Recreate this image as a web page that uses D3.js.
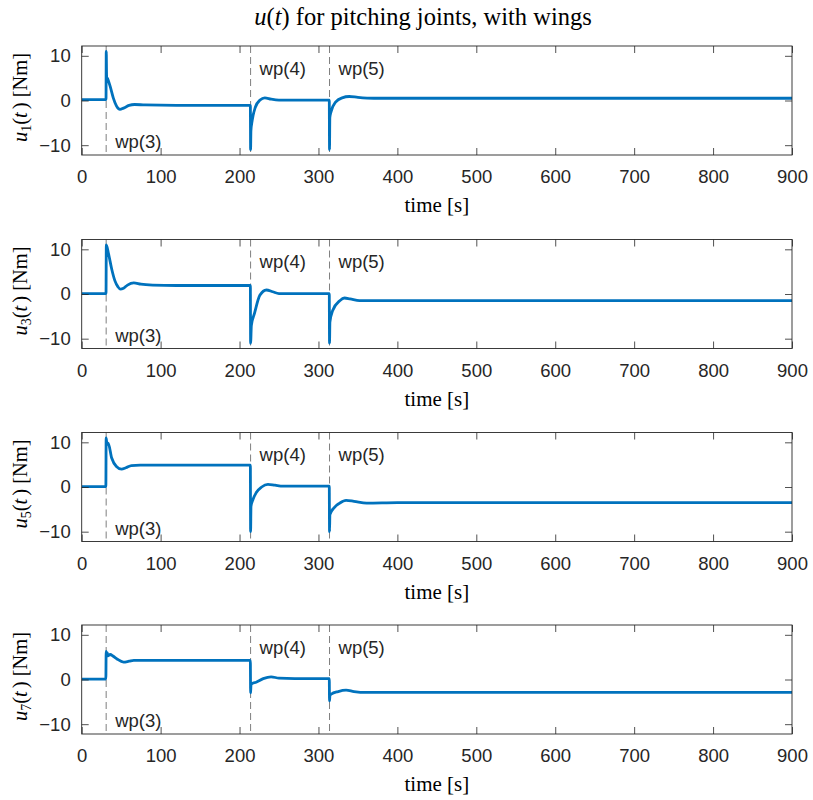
<!DOCTYPE html>
<html><head><meta charset="utf-8">
<script src="https://cdn.jsdelivr.net/npm/d3@7"></script>
<style>body{margin:0;background:#fff}</style>
</head><body>
<svg id="c" width="813" height="800"></svg>
<script>
// ---- data ----
const timeTicks = [0,100,200,300,400,500,600,700,800,900];
const yTicks = [-10,0,10];
const waypointTimes = [31,214,314];
const waypointLabels = ["wp(3)","wp(4)","wp(5)"];
const waypointLabelSide = ["bottom","top","top"];
const seriesNames = ["1","3","5","7"];

const t1 = [0,30.8,31.1,31.6,32.8,36,40,44,48.5,53,60,67,80,120,213.7,214.0,214.4,216,220,226,232,240,250,270,313.7,314.0,314.4,316,322,330,339,350,370,450,900];
const u1 = [0.2,0.2,11,5.2,4.9,3.2,0.6,-1.2,-2.0,-1.7,-1.1,-0.9,-1.0,-1.1,-1.1,-11,-6.8,-4.5,-1.5,0.1,0.6,0.3,0.1,0.1,0.1,-11,-3.8,-2.5,-0.3,0.6,0.9,0.7,0.5,0.5,0.5];

const t3 = [0,30.8,31.2,34,38,42,46,49,53,58,66,75,90,120,213.7,214.0,215,219,225.7,234,242,250,270,313.7,314.0,314.5,318,327,333,340,352,380,900];
const u3 = [0.1,0.1,11,9,5.6,3,1.6,1.1,1.3,2.0,2.5,2.2,2.0,1.9,1.9,-11,-7,-4.3,-0.3,0.9,0.5,0.1,0.1,0.1,-11,-6.3,-3.7,-1.5,-0.9,-1.1,-1.5,-1.5,-1.5];

const t5 = [0,30.6,31.0,32,33.5,38,44,50.5,56,63,74,120,213.7,214.0,214.5,217,221,228,236,245,255,280,313.7,314.0,314.5,320,327,335,345,361,400,900];
const u5 = [0.1,0.1,11,9.5,9.8,6.5,4.6,4.0,4.3,4.8,4.9,4.9,4.9,-10,-4.3,-2.8,-1.3,0.0,0.6,0.4,0.2,0.2,0.2,-10,-6.2,-4.6,-3.6,-3.0,-3.2,-3.6,-3.5,-3.5];

const t7 = [0,30.6,31.0,31.6,32.4,33.2,36,40,44.7,53,60,66,90,213.7,214.0,214.5,216,221,230,240,250,270,313.7,314.0,314.5,316,325,335,345,360,900];
const u7 = [0.1,0.1,6.3,5.2,6.0,5.3,5.6,5.2,4.6,3.9,4.1,4.3,4.3,4.3,-3.0,-1.2,-0.9,-0.6,0.2,0.6,0.3,0.2,0.2,-4.8,-3.6,-3.3,-2.7,-2.4,-2.7,-2.9,-2.9];

const seriesT = [t1,t3,t5,t7];
const seriesU = [u1,u3,u5,u7];

// ---- layout ----
const svg = d3.select("#c");
const left = 81.7, right = 792, ph = 109;
const tops = [46, 239.5, 432.5, 625];
const axisColor = "#262626";
const lineColor = "#0072BD";
const sans = "'Liberation Sans', Arial, Helvetica, sans-serif";
const serif = "'Liberation Serif', 'Times New Roman', serif";
const x = d3.scaleLinear().domain([0,900]).range([left,right]);

// title
const title = svg.append("text").attr("x",423).attr("y",25).attr("text-anchor","middle")
  .style("font-family",serif).style("font-size","24.5px").attr("fill","#000");
title.append("tspan").style("font-style","italic").text("u");
title.append("tspan").text("(");
title.append("tspan").style("font-style","italic").text("t");
title.append("tspan").text(") for pitching joints, with wings");

seriesNames.forEach((nm,i)=>{
  const top = tops[i];
  const y = d3.scaleLinear().domain([-12.2,12.2]).range([top+ph, top]);
  const g = svg.append("g");
  const clipId = "clip"+i;
  svg.append("clipPath").attr("id",clipId).append("rect")
    .attr("x",left).attr("y",top).attr("width",right-left).attr("height",ph);

  // waypoint lines
  waypointTimes.forEach((wt,k)=>{
    g.append("line").attr("x1",x(wt)).attr("x2",x(wt)).attr("y1",top).attr("y2",top+ph)
      .attr("stroke","#7f7f7f").attr("stroke-width",1).attr("stroke-dasharray","7,4");
    const side = waypointLabelSide[k];
    g.append("text").attr("x",x(wt)+9)
      .attr("y", side==="top" ? top+28.5 : top+ph-7)
      .style("font-family",sans).style("font-size","18.5px").attr("fill",axisColor)
      .text(waypointLabels[k]);
  });

  // data line
  const pts = seriesT[i].map((t,j)=>[t, seriesU[i][j]]);
  g.append("path").datum(pts).attr("clip-path",`url(#${clipId})`)
    .attr("fill","none").attr("stroke",lineColor).attr("stroke-width",2.8)
    .attr("stroke-linejoin","round")
    .attr("d", d3.line().x(d=>x(d[0])).y(d=>y(d[1])).curve(d3.curveMonotoneX));

  // axes
  const tl = 7;
  const ax = svg.append("g").attr("transform",`translate(0,${top+ph})`)
    .call(d3.axisBottom(x).tickValues(timeTicks).tickSize(-tl).tickPadding(tl+8).tickSizeOuter(0));
  const axTop = svg.append("g").attr("transform",`translate(0,${top})`)
    .call(d3.axisTop(x).tickValues(timeTicks).tickSize(-tl).tickFormat("").tickSizeOuter(0));
  const ay = svg.append("g").attr("transform",`translate(${left},0)`)
    .call(d3.axisLeft(y).tickValues(yTicks).tickSize(-tl).tickPadding(tl+4).tickSizeOuter(0));
  const ayR = svg.append("g").attr("transform",`translate(${right},0)`)
    .call(d3.axisRight(y).tickValues(yTicks).tickSize(-tl).tickFormat("").tickSizeOuter(0));
  [ax,axTop,ay,ayR].forEach(a=>{
    a.select(".domain").remove();
    a.selectAll(".tick line").attr("stroke",axisColor).attr("stroke-width",0.8);
    a.selectAll(".tick text").attr("fill",axisColor).style("font-family",sans).style("font-size","18.5px");
  });
  ax.selectAll(".tick text").attr("dy","0.71em");
  svg.append("rect").attr("x",left).attr("y",top).attr("width",right-left).attr("height",ph)
    .attr("fill","none").attr("stroke",axisColor).attr("stroke-width",0.9);

  // x label
  svg.append("text").attr("x",(left+right)/2).attr("y",top+ph+57)
    .attr("text-anchor","middle")
    .style("font-family",serif).style("font-size","21px")
    .attr("fill","#000").text("time [s]");

  // y label
  const yl = svg.append("text")
    .attr("transform",`translate(27,${top+ph/2-3}) rotate(-90)`)
    .attr("text-anchor","middle").style("font-family",serif).style("font-size","20.5px").attr("fill","#000");
  yl.append("tspan").style("font-style","italic").text("u");
  yl.append("tspan").attr("baseline-shift","-25%").style("font-size","14px").text(nm);
  yl.append("tspan").text("(");
  yl.append("tspan").style("font-style","italic").text("t");
  yl.append("tspan").attr("dx",3).text(") [Nm]");
});
</script>
</body></html>
